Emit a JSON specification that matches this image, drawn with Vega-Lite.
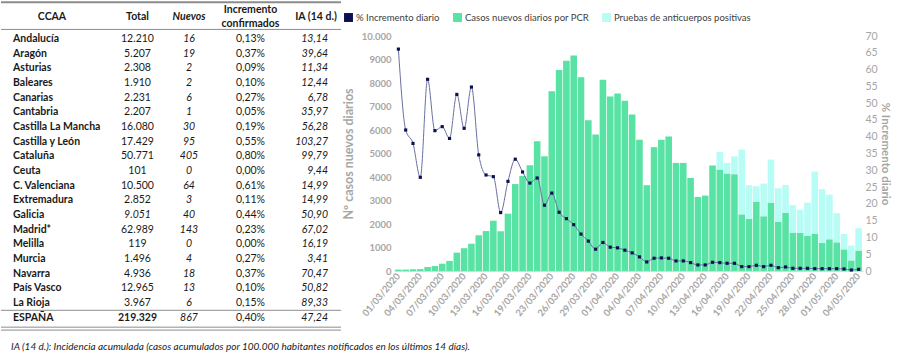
{
"$schema": "https://vega.github.io/schema/vega-lite/v6.json",
"padding": 0,
"background": "white",
"bounds": "flush",
"spacing": 63,
"resolve": {"scale": {"color": "independent"}, "legend": {"color": "independent"}},
"config": {"view": {"stroke": null}, "font": "Lato"},
"datasets": {
"tabla": [
{"CCAA":"Andalucía","Total":"12.210","Nuevos":"16","Inc":"0,13%","IA":"13,14"},
{"CCAA":"Aragón","Total":"5.207","Nuevos":"19","Inc":"0,37%","IA":"39,64"},
{"CCAA":"Asturias","Total":"2.308","Nuevos":"2","Inc":"0,09%","IA":"11,34"},
{"CCAA":"Baleares","Total":"1.910","Nuevos":"2","Inc":"0,10%","IA":"12,44"},
{"CCAA":"Canarias","Total":"2.231","Nuevos":"6","Inc":"0,27%","IA":"6,78"},
{"CCAA":"Cantabria","Total":"2.207","Nuevos":"1","Inc":"0,05%","IA":"35,97"},
{"CCAA":"Castilla La Mancha","Total":"16.080","Nuevos":"30","Inc":"0,19%","IA":"56,28"},
{"CCAA":"Castilla y León","Total":"17.429","Nuevos":"95","Inc":"0,55%","IA":"103,27"},
{"CCAA":"Cataluña","Total":"50.771","Nuevos":"405","Inc":"0,80%","IA":"99,79"},
{"CCAA":"Ceuta","Total":"101","Nuevos":"0","Inc":"0,00%","IA":"9,44"},
{"CCAA":"C. Valenciana","Total":"10.500","Nuevos":"64","Inc":"0,61%","IA":"14,99"},
{"CCAA":"Extremadura","Total":"2.852","Nuevos":"3","Inc":"0,11%","IA":"14,99"},
{"CCAA":"Galicia","Total":"9.051","Nuevos":"40","Inc":"0,44%","IA":"50,90"},
{"CCAA":"Madrid*","Total":"62.989","Nuevos":"143","Inc":"0,23%","IA":"67,02"},
{"CCAA":"Melilla","Total":"119","Nuevos":"0","Inc":"0,00%","IA":"16,19"},
{"CCAA":"Murcia","Total":"1.496","Nuevos":"4","Inc":"0,27%","IA":"3,41"},
{"CCAA":"Navarra","Total":"4.936","Nuevos":"18","Inc":"0,37%","IA":"70,47"},
{"CCAA":"País Vasco","Total":"12.965","Nuevos":"13","Inc":"0,10%","IA":"50,82"},
{"CCAA":"La Rioja","Total":"3.967","Nuevos":"6","Inc":"0,15%","IA":"89,33"},
{"CCAA":"ESPAÑA","Total":"219.329","Nuevos":"867","Inc":"0,40%","IA":"47,24"}
],
"serie": [
{"fecha":"01/03/2020","Casos nuevos diarios por PCR":60,"Pruebas de anticuerpos positivas":null,"pct":66.1},
{"fecha":"02/03/2020","Casos nuevos diarios por PCR":60,"Pruebas de anticuerpos positivas":null,"pct":42.0},
{"fecha":"03/03/2020","Casos nuevos diarios por PCR":75,"Pruebas de anticuerpos positivas":null,"pct":38.0},
{"fecha":"04/03/2020","Casos nuevos diarios por PCR":80,"Pruebas de anticuerpos positivas":null,"pct":27.9},
{"fecha":"05/03/2020","Casos nuevos diarios por PCR":170,"Pruebas de anticuerpos positivas":null,"pct":57.1},
{"fecha":"06/03/2020","Casos nuevos diarios por PCR":210,"Pruebas de anticuerpos positivas":null,"pct":41.8},
{"fecha":"07/03/2020","Casos nuevos diarios por PCR":310,"Pruebas de anticuerpos positivas":null,"pct":43.0},
{"fecha":"08/03/2020","Casos nuevos diarios por PCR":430,"Pruebas de anticuerpos positivas":null,"pct":39.5},
{"fecha":"09/03/2020","Casos nuevos diarios por PCR":780,"Pruebas de anticuerpos positivas":null,"pct":52.6},
{"fecha":"10/03/2020","Casos nuevos diarios por PCR":970,"Pruebas de anticuerpos positivas":null,"pct":42.5},
{"fecha":"11/03/2020","Casos nuevos diarios por PCR":1160,"Pruebas de anticuerpos positivas":null,"pct":54.8},
{"fecha":"12/03/2020","Casos nuevos diarios por PCR":1520,"Pruebas de anticuerpos positivas":null,"pct":34.6},
{"fecha":"13/03/2020","Casos nuevos diarios por PCR":1700,"Pruebas de anticuerpos positivas":null,"pct":28.6},
{"fecha":"14/03/2020","Casos nuevos diarios por PCR":2140,"Pruebas de anticuerpos positivas":null,"pct":28.1},
{"fecha":"15/03/2020","Casos nuevos diarios por PCR":1690,"Pruebas de anticuerpos positivas":null,"pct":17.4},
{"fecha":"16/03/2020","Casos nuevos diarios por PCR":2440,"Pruebas de anticuerpos positivas":null,"pct":26.7},
{"fecha":"17/03/2020","Casos nuevos diarios por PCR":3700,"Pruebas de anticuerpos positivas":null,"pct":33.3},
{"fecha":"18/03/2020","Casos nuevos diarios por PCR":4050,"Pruebas de anticuerpos positivas":null,"pct":29.5},
{"fecha":"19/03/2020","Casos nuevos diarios por PCR":4500,"Pruebas de anticuerpos positivas":null,"pct":26.2},
{"fecha":"20/03/2020","Casos nuevos diarios por PCR":5520,"Pruebas de anticuerpos positivas":null,"pct":27.7},
{"fecha":"21/03/2020","Casos nuevos diarios por PCR":4880,"Pruebas de anticuerpos positivas":null,"pct":19.6},
{"fecha":"23/03/2020","Casos nuevos diarios por PCR":7650,"Pruebas de anticuerpos positivas":null,"pct":23.2},
{"fecha":"24/03/2020","Casos nuevos diarios por PCR":8550,"Pruebas de anticuerpos positivas":null,"pct":17.5},
{"fecha":"25/03/2020","Casos nuevos diarios por PCR":8950,"Pruebas de anticuerpos positivas":null,"pct":15.6},
{"fecha":"26/03/2020","Casos nuevos diarios por PCR":9170,"Pruebas de anticuerpos positivas":null,"pct":13.8},
{"fecha":"27/03/2020","Casos nuevos diarios por PCR":8250,"Pruebas de anticuerpos positivas":null,"pct":11.0},
{"fecha":"28/03/2020","Casos nuevos diarios por PCR":6420,"Pruebas de anticuerpos positivas":null,"pct":8.9},
{"fecha":"29/03/2020","Casos nuevos diarios por PCR":5810,"Pruebas de anticuerpos positivas":null,"pct":6.5},
{"fecha":"30/03/2020","Casos nuevos diarios por PCR":8140,"Pruebas de anticuerpos positivas":null,"pct":8.5},
{"fecha":"31/03/2020","Casos nuevos diarios por PCR":7430,"Pruebas de anticuerpos positivas":null,"pct":7.1},
{"fecha":"01/04/2020","Casos nuevos diarios por PCR":7550,"Pruebas de anticuerpos positivas":null,"pct":6.9},
{"fecha":"02/04/2020","Casos nuevos diarios por PCR":7240,"Pruebas de anticuerpos positivas":null,"pct":6.2},
{"fecha":"03/04/2020","Casos nuevos diarios por PCR":6660,"Pruebas de anticuerpos positivas":null,"pct":5.4},
{"fecha":"04/04/2020","Casos nuevos diarios por PCR":5580,"Pruebas de anticuerpos positivas":null,"pct":4.2},
{"fecha":"05/04/2020","Casos nuevos diarios por PCR":3650,"Pruebas de anticuerpos positivas":null,"pct":2.7},
{"fecha":"06/04/2020","Casos nuevos diarios por PCR":5270,"Pruebas de anticuerpos positivas":null,"pct":3.8},
{"fecha":"07/04/2020","Casos nuevos diarios por PCR":5580,"Pruebas de anticuerpos positivas":null,"pct":3.9},
{"fecha":"08/04/2020","Casos nuevos diarios por PCR":5720,"Pruebas de anticuerpos positivas":null,"pct":3.8},
{"fecha":"09/04/2020","Casos nuevos diarios por PCR":4600,"Pruebas de anticuerpos positivas":null,"pct":3.0},
{"fecha":"10/04/2020","Casos nuevos diarios por PCR":4600,"Pruebas de anticuerpos positivas":null,"pct":3.0},
{"fecha":"11/04/2020","Casos nuevos diarios por PCR":3960,"Pruebas de anticuerpos positivas":null,"pct":2.5},
{"fecha":"12/04/2020","Casos nuevos diarios por PCR":3150,"Pruebas de anticuerpos positivas":null,"pct":1.8},
{"fecha":"13/04/2020","Casos nuevos diarios por PCR":3210,"Pruebas de anticuerpos positivas":null,"pct":1.8},
{"fecha":"14/04/2020","Casos nuevos diarios por PCR":4490,"Pruebas de anticuerpos positivas":null,"pct":2.6},
{"fecha":"15/04/2020","Casos nuevos diarios por PCR":4320,"Pruebas de anticuerpos positivas":750,"pct":2.5},
{"fecha":"16/04/2020","Casos nuevos diarios por PCR":4150,"Pruebas de anticuerpos positivas":450,"pct":2.3},
{"fecha":"17/04/2020","Casos nuevos diarios por PCR":4120,"Pruebas de anticuerpos positivas":760,"pct":2.3},
{"fecha":"18/04/2020","Casos nuevos diarios por PCR":2410,"Pruebas de anticuerpos positivas":2760,"pct":1.3},
{"fecha":"19/04/2020","Casos nuevos diarios por PCR":2220,"Pruebas de anticuerpos positivas":1430,"pct":1.3},
{"fecha":"20/04/2020","Casos nuevos diarios por PCR":2940,"Pruebas de anticuerpos positivas":670,"pct":1.7},
{"fecha":"21/04/2020","Casos nuevos diarios por PCR":2330,"Pruebas de anticuerpos positivas":1390,"pct":1.3},
{"fecha":"22/04/2020","Casos nuevos diarios por PCR":2910,"Pruebas de anticuerpos positivas":1830,"pct":1.7},
{"fecha":"23/04/2020","Casos nuevos diarios por PCR":2090,"Pruebas de anticuerpos positivas":1430,"pct":1.0},
{"fecha":"24/04/2020","Casos nuevos diarios por PCR":2470,"Pruebas de anticuerpos positivas":1190,"pct":1.2},
{"fecha":"25/04/2020","Casos nuevos diarios por PCR":1630,"Pruebas de anticuerpos positivas":1170,"pct":0.8},
{"fecha":"26/04/2020","Casos nuevos diarios por PCR":1630,"Pruebas de anticuerpos positivas":980,"pct":0.8},
{"fecha":"27/04/2020","Casos nuevos diarios por PCR":1490,"Pruebas de anticuerpos positivas":1420,"pct":0.8},
{"fecha":"28/04/2020","Casos nuevos diarios por PCR":1590,"Pruebas de anticuerpos positivas":2640,"pct":0.7},
{"fecha":"29/04/2020","Casos nuevos diarios por PCR":1190,"Pruebas de anticuerpos positivas":2290,"pct":0.7},
{"fecha":"30/04/2020","Casos nuevos diarios por PCR":1350,"Pruebas de anticuerpos positivas":1900,"pct":0.7},
{"fecha":"01/05/2020","Casos nuevos diarios por PCR":1220,"Pruebas de anticuerpos positivas":1240,"pct":0.7},
{"fecha":"02/05/2020","Casos nuevos diarios por PCR":920,"Pruebas de anticuerpos positivas":660,"pct":0.6},
{"fecha":"03/05/2020","Casos nuevos diarios por PCR":450,"Pruebas de anticuerpos positivas":630,"pct":0.3},
{"fecha":"04/05/2020","Casos nuevos diarios por PCR":870,"Pruebas de anticuerpos positivas":950,"pct":0.5}
]
},
"hconcat": [
{
"width": 330,
"height": 361,
"data": {"name": "tabla"},
"layer": [
{"data": {"values": [{}]}, "mark": {"type": "rule", "color": "#8c8c8c", "strokeWidth": 2, "x2Offset": 10},
 "encoding": {"x": {"datum": "CCAA", "type": "nominal", "axis": null, "scale": {"type": "point", "domain": ["CCAA","Total","Nuevos","Inc","IA"], "padding": 0}}, "x2": {"datum": "IA"},
 "y": {"datum": "h1", "type": "nominal", "axis": null, "bandPosition": 0, "scale": {"type": "band", "domain": ["h1","h2","Andalucía","Aragón","Asturias","Baleares","Canarias","Cantabria","Castilla La Mancha","Castilla y León","Cataluña","Ceuta","C. Valenciana","Extremadura","Galicia","Madrid*","Melilla","Murcia","Navarra","País Vasco","La Rioja","ESPAÑA","sp","nota"], "range": [2.3, 354.3], "paddingInner": 0, "paddingOuter": 0}}}},
{"data": {"values": [{}]}, "mark": {"type": "rule", "color": "#8c8c8c", "strokeWidth": 1, "x2Offset": 10},
 "encoding": {"x": {"datum": "CCAA", "type": "nominal", "axis": null, "scale": {"type": "point", "domain": ["CCAA","Total","Nuevos","Inc","IA"], "padding": 0}}, "x2": {"datum": "IA"},
 "y": {"datum": "h2", "type": "nominal", "axis": null, "bandPosition": 0.85, "scale": {"type": "band", "domain": ["h1","h2","Andalucía","Aragón","Asturias","Baleares","Canarias","Cantabria","Castilla La Mancha","Castilla y León","Cataluña","Ceuta","C. Valenciana","Extremadura","Galicia","Madrid*","Melilla","Murcia","Navarra","País Vasco","La Rioja","ESPAÑA","sp","nota"], "range": [2.3, 354.3], "paddingInner": 0, "paddingOuter": 0}}}},
{"data": {"values": [{}]}, "mark": {"type": "rule", "color": "#8c8c8c", "strokeWidth": 1, "x2Offset": 10},
 "encoding": {"x": {"datum": "CCAA", "type": "nominal", "axis": null, "scale": {"type": "point", "domain": ["CCAA","Total","Nuevos","Inc","IA"], "padding": 0}}, "x2": {"datum": "IA"},
 "y": {"datum": "ESPAÑA", "type": "nominal", "axis": null, "bandPosition": 0, "scale": {"type": "band", "domain": ["h1","h2","Andalucía","Aragón","Asturias","Baleares","Canarias","Cantabria","Castilla La Mancha","Castilla y León","Cataluña","Ceuta","C. Valenciana","Extremadura","Galicia","Madrid*","Melilla","Murcia","Navarra","País Vasco","La Rioja","ESPAÑA","sp","nota"], "range": [2.3, 354.3], "paddingInner": 0, "paddingOuter": 0}}}},
{"data": {"values": [{}]}, "mark": {"type": "rule", "color": "#8c8c8c", "strokeWidth": 1, "x2Offset": 10},
 "encoding": {"x": {"datum": "CCAA", "type": "nominal", "axis": null, "scale": {"type": "point", "domain": ["CCAA","Total","Nuevos","Inc","IA"], "padding": 0}}, "x2": {"datum": "IA"},
 "y": {"datum": "sp", "type": "nominal", "axis": null, "bandPosition": 0.15, "scale": {"type": "band", "domain": ["h1","h2","Andalucía","Aragón","Asturias","Baleares","Canarias","Cantabria","Castilla La Mancha","Castilla y León","Cataluña","Ceuta","C. Valenciana","Extremadura","Galicia","Madrid*","Melilla","Murcia","Navarra","País Vasco","La Rioja","ESPAÑA","sp","nota"], "range": [2.3, 354.3], "paddingInner": 0, "paddingOuter": 0}}}},
{"data": {"values": [{}]}, "mark": {"type": "rule", "color": "#8c8c8c", "strokeWidth": 1, "x2Offset": 10},
 "encoding": {"x": {"datum": "CCAA", "type": "nominal", "axis": null, "scale": {"type": "point", "domain": ["CCAA","Total","Nuevos","Inc","IA"], "padding": 0}}, "x2": {"datum": "IA"},
 "y": {"datum": "sp", "type": "nominal", "axis": null, "bandPosition": 0.35, "scale": {"type": "band", "domain": ["h1","h2","Andalucía","Aragón","Asturias","Baleares","Canarias","Cantabria","Castilla La Mancha","Castilla y León","Cataluña","Ceuta","C. Valenciana","Extremadura","Galicia","Madrid*","Melilla","Murcia","Navarra","País Vasco","La Rioja","ESPAÑA","sp","nota"], "range": [2.3, 354.3], "paddingInner": 0, "paddingOuter": 0}}}},
{"data": {"values": [{"t": "CCAA"}]}, "mark": {"type": "text", "font": "Lato", "fontSize": 10.5, "fontWeight": "bold", "baseline": "middle", "color": "#1a1a1a", "dx": 51},
 "encoding": {"x": {"datum": "CCAA", "type": "nominal", "axis": null, "scale": {"type": "point", "domain": ["CCAA","Total","Nuevos","Inc","IA"], "padding": 0}},
 "y": {"datum": "h2", "type": "nominal", "axis": null, "bandPosition": 0, "scale": {"type": "band", "domain": ["h1","h2","Andalucía","Aragón","Asturias","Baleares","Canarias","Cantabria","Castilla La Mancha","Castilla y León","Cataluña","Ceuta","C. Valenciana","Extremadura","Galicia","Madrid*","Melilla","Murcia","Navarra","País Vasco","La Rioja","ESPAÑA","sp","nota"], "range": [2.3, 354.3], "paddingInner": 0, "paddingOuter": 0}},
 "text": {"field": "t"}}},
{"data": {"values": [{"t": "Total"}]}, "mark": {"type": "text", "font": "Lato", "fontSize": 10.5, "fontWeight": "bold", "baseline": "middle", "color": "#1a1a1a", "dx": 54},
 "encoding": {"x": {"datum": "Total", "type": "nominal", "axis": null, "scale": {"type": "point", "domain": ["CCAA","Total","Nuevos","Inc","IA"], "padding": 0}},
 "y": {"datum": "h2", "type": "nominal", "axis": null, "bandPosition": 0, "scale": {"type": "band", "domain": ["h1","h2","Andalucía","Aragón","Asturias","Baleares","Canarias","Cantabria","Castilla La Mancha","Castilla y León","Cataluña","Ceuta","C. Valenciana","Extremadura","Galicia","Madrid*","Melilla","Murcia","Navarra","País Vasco","La Rioja","ESPAÑA","sp","nota"], "range": [2.3, 354.3], "paddingInner": 0, "paddingOuter": 0}},
 "text": {"field": "t"}}},
{"data": {"values": [{"t": "Nuevos"}]}, "mark": {"type": "text", "font": "Lato", "fontSize": 10.5, "fontWeight": "bold", "fontStyle": "italic", "baseline": "middle", "color": "#1a1a1a", "dx": 23},
 "encoding": {"x": {"datum": "Nuevos", "type": "nominal", "axis": null, "scale": {"type": "point", "domain": ["CCAA","Total","Nuevos","Inc","IA"], "padding": 0}},
 "y": {"datum": "h2", "type": "nominal", "axis": null, "bandPosition": 0, "scale": {"type": "band", "domain": ["h1","h2","Andalucía","Aragón","Asturias","Baleares","Canarias","Cantabria","Castilla La Mancha","Castilla y León","Cataluña","Ceuta","C. Valenciana","Extremadura","Galicia","Madrid*","Melilla","Murcia","Navarra","País Vasco","La Rioja","ESPAÑA","sp","nota"], "range": [2.3, 354.3], "paddingInner": 0, "paddingOuter": 0}},
 "text": {"field": "t"}}},
{"data": {"values": [{"t": "IA (14 d.)"}]}, "mark": {"type": "text", "font": "Lato", "fontSize": 10.5, "fontWeight": "bold", "baseline": "middle", "color": "#1a1a1a", "dx": -15},
 "encoding": {"x": {"datum": "IA", "type": "nominal", "axis": null, "scale": {"type": "point", "domain": ["CCAA","Total","Nuevos","Inc","IA"], "padding": 0}},
 "y": {"datum": "h2", "type": "nominal", "axis": null, "bandPosition": 0, "scale": {"type": "band", "domain": ["h1","h2","Andalucía","Aragón","Asturias","Baleares","Canarias","Cantabria","Castilla La Mancha","Castilla y León","Cataluña","Ceuta","C. Valenciana","Extremadura","Galicia","Madrid*","Melilla","Murcia","Navarra","País Vasco","La Rioja","ESPAÑA","sp","nota"], "range": [2.3, 354.3], "paddingInner": 0, "paddingOuter": 0}},
 "text": {"field": "t"}}},
{"data": {"values": [{"f": "h1", "t": "Incremento"}, {"f": "h2", "t": "confirmados"}]}, "mark": {"type": "text", "font": "Lato", "fontSize": 10.5, "fontWeight": "bold", "baseline": "middle", "color": "#1a1a1a", "dx": 2},
 "encoding": {"x": {"datum": "Inc", "type": "nominal", "axis": null, "scale": {"type": "point", "domain": ["CCAA","Total","Nuevos","Inc","IA"], "padding": 0}},
 "y": {"field": "f", "type": "nominal", "axis": null, "bandPosition": 0.5, "scale": {"type": "band", "domain": ["h1","h2","Andalucía","Aragón","Asturias","Baleares","Canarias","Cantabria","Castilla La Mancha","Castilla y León","Cataluña","Ceuta","C. Valenciana","Extremadura","Galicia","Madrid*","Melilla","Murcia","Navarra","País Vasco","La Rioja","ESPAÑA","sp","nota"], "range": [2.3, 354.3], "paddingInner": 0, "paddingOuter": 0}},
 "text": {"field": "t"}}},
{"mark": {"type": "text", "font": "Lato", "fontSize": 10.5, "fontWeight": "bold", "baseline": "middle", "align": "left", "color": "#1a1a1a", "dx": 12},
 "encoding": {"x": {"datum": "CCAA", "type": "nominal", "axis": null, "scale": {"type": "point", "domain": ["CCAA","Total","Nuevos","Inc","IA"], "padding": 0}},
 "y": {"field": "CCAA", "type": "nominal", "axis": null, "bandPosition": 0.5, "scale": {"type": "band", "domain": ["h1","h2","Andalucía","Aragón","Asturias","Baleares","Canarias","Cantabria","Castilla La Mancha","Castilla y León","Cataluña","Ceuta","C. Valenciana","Extremadura","Galicia","Madrid*","Melilla","Murcia","Navarra","País Vasco","La Rioja","ESPAÑA","sp","nota"], "range": [2.3, 354.3], "paddingInner": 0, "paddingOuter": 0}},
 "text": {"field": "CCAA"}}},
{"transform": [{"filter": "datum.CCAA != 'ESPAÑA' && datum.CCAA != 'Galicia'"}], "mark": {"type": "text", "font": "Lato", "fontSize": 10.5, "baseline": "middle", "color": "#1a1a1a", "dx": 54},
 "encoding": {"x": {"datum": "Total", "type": "nominal", "axis": null, "scale": {"type": "point", "domain": ["CCAA","Total","Nuevos","Inc","IA"], "padding": 0}},
 "y": {"field": "CCAA", "type": "nominal", "axis": null, "bandPosition": 0.5, "scale": {"type": "band", "domain": ["h1","h2","Andalucía","Aragón","Asturias","Baleares","Canarias","Cantabria","Castilla La Mancha","Castilla y León","Cataluña","Ceuta","C. Valenciana","Extremadura","Galicia","Madrid*","Melilla","Murcia","Navarra","País Vasco","La Rioja","ESPAÑA","sp","nota"], "range": [2.3, 354.3], "paddingInner": 0, "paddingOuter": 0}},
 "text": {"field": "Total"}}},
{"transform": [{"filter": "datum.CCAA == 'Galicia'"}], "mark": {"type": "text", "font": "Lato", "fontSize": 10.5, "fontStyle": "italic", "baseline": "middle", "color": "#1a1a1a", "dx": 54},
 "encoding": {"x": {"datum": "Total", "type": "nominal", "axis": null, "scale": {"type": "point", "domain": ["CCAA","Total","Nuevos","Inc","IA"], "padding": 0}},
 "y": {"field": "CCAA", "type": "nominal", "axis": null, "bandPosition": 0.5, "scale": {"type": "band", "domain": ["h1","h2","Andalucía","Aragón","Asturias","Baleares","Canarias","Cantabria","Castilla La Mancha","Castilla y León","Cataluña","Ceuta","C. Valenciana","Extremadura","Galicia","Madrid*","Melilla","Murcia","Navarra","País Vasco","La Rioja","ESPAÑA","sp","nota"], "range": [2.3, 354.3], "paddingInner": 0, "paddingOuter": 0}},
 "text": {"field": "Total"}}},
{"transform": [{"filter": "datum.CCAA == 'ESPAÑA'"}], "mark": {"type": "text", "font": "Lato", "fontSize": 10.5, "fontWeight": "bold", "baseline": "middle", "color": "#1a1a1a", "dx": 54},
 "encoding": {"x": {"datum": "Total", "type": "nominal", "axis": null, "scale": {"type": "point", "domain": ["CCAA","Total","Nuevos","Inc","IA"], "padding": 0}},
 "y": {"field": "CCAA", "type": "nominal", "axis": null, "bandPosition": 0.5, "scale": {"type": "band", "domain": ["h1","h2","Andalucía","Aragón","Asturias","Baleares","Canarias","Cantabria","Castilla La Mancha","Castilla y León","Cataluña","Ceuta","C. Valenciana","Extremadura","Galicia","Madrid*","Melilla","Murcia","Navarra","País Vasco","La Rioja","ESPAÑA","sp","nota"], "range": [2.3, 354.3], "paddingInner": 0, "paddingOuter": 0}},
 "text": {"field": "Total"}}},
{"mark": {"type": "text", "font": "Lato", "fontSize": 10.5, "fontStyle": "italic", "baseline": "middle", "color": "#1a1a1a", "dx": 23},
 "encoding": {"x": {"datum": "Nuevos", "type": "nominal", "axis": null, "scale": {"type": "point", "domain": ["CCAA","Total","Nuevos","Inc","IA"], "padding": 0}},
 "y": {"field": "CCAA", "type": "nominal", "axis": null, "bandPosition": 0.5, "scale": {"type": "band", "domain": ["h1","h2","Andalucía","Aragón","Asturias","Baleares","Canarias","Cantabria","Castilla La Mancha","Castilla y León","Cataluña","Ceuta","C. Valenciana","Extremadura","Galicia","Madrid*","Melilla","Murcia","Navarra","País Vasco","La Rioja","ESPAÑA","sp","nota"], "range": [2.3, 354.3], "paddingInner": 0, "paddingOuter": 0}},
 "text": {"field": "Nuevos"}}},
{"mark": {"type": "text", "font": "Lato", "fontSize": 10.5, "baseline": "middle", "color": "#1a1a1a", "dx": 2},
 "encoding": {"x": {"datum": "Inc", "type": "nominal", "axis": null, "scale": {"type": "point", "domain": ["CCAA","Total","Nuevos","Inc","IA"], "padding": 0}},
 "y": {"field": "CCAA", "type": "nominal", "axis": null, "bandPosition": 0.5, "scale": {"type": "band", "domain": ["h1","h2","Andalucía","Aragón","Asturias","Baleares","Canarias","Cantabria","Castilla La Mancha","Castilla y León","Cataluña","Ceuta","C. Valenciana","Extremadura","Galicia","Madrid*","Melilla","Murcia","Navarra","País Vasco","La Rioja","ESPAÑA","sp","nota"], "range": [2.3, 354.3], "paddingInner": 0, "paddingOuter": 0}},
 "text": {"field": "Inc"}}},
{"mark": {"type": "text", "font": "Lato", "fontSize": 10.5, "fontStyle": "italic", "baseline": "middle", "align": "right", "color": "#1a1a1a", "dx": -3},
 "encoding": {"x": {"datum": "IA", "type": "nominal", "axis": null, "scale": {"type": "point", "domain": ["CCAA","Total","Nuevos","Inc","IA"], "padding": 0}},
 "y": {"field": "CCAA", "type": "nominal", "axis": null, "bandPosition": 0.5, "scale": {"type": "band", "domain": ["h1","h2","Andalucía","Aragón","Asturias","Baleares","Canarias","Cantabria","Castilla La Mancha","Castilla y León","Cataluña","Ceuta","C. Valenciana","Extremadura","Galicia","Madrid*","Melilla","Murcia","Navarra","País Vasco","La Rioja","ESPAÑA","sp","nota"], "range": [2.3, 354.3], "paddingInner": 0, "paddingOuter": 0}},
 "text": {"field": "IA"}}},
{"data": {"values": [{"t": "IA (14 d.): Incidencia acumulada (casos acumulados por 100.000 habitantes notificados en los últimos 14 días)."}]}, "mark": {"type": "text", "font": "Lato", "fontSize": 10, "fontStyle": "italic", "baseline": "middle", "align": "left", "color": "#222222", "dx": 10},
 "encoding": {"x": {"datum": "CCAA", "type": "nominal", "axis": null, "scale": {"type": "point", "domain": ["CCAA","Total","Nuevos","Inc","IA"], "padding": 0}},
 "y": {"datum": "nota", "type": "nominal", "axis": null, "bandPosition": 0.5, "scale": {"type": "band", "domain": ["h1","h2","Andalucía","Aragón","Asturias","Baleares","Canarias","Cantabria","Castilla La Mancha","Castilla y León","Cataluña","Ceuta","C. Valenciana","Extremadura","Galicia","Madrid*","Melilla","Murcia","Navarra","País Vasco","La Rioja","ESPAÑA","sp","nota"], "range": [2.3, 354.3], "paddingInner": 0, "paddingOuter": 0}},
 "text": {"field": "t"}}}
]
},
{
"width": 469,
"height": 271,
"data": {"name": "serie"},
"layer": [
{"transform": [{"fold": ["Casos nuevos diarios por PCR", "Pruebas de anticuerpos positivas"], "as": ["serie", "valor"]}],
 "mark": {"type": "bar"},
 "encoding": {
  "x": {"field": "fecha", "type": "ordinal", "sort": null, "scale": {"paddingInner": 0.1, "paddingOuter": 0.15},
   "axis": {"values": ["01/03/2020","04/03/2020","07/03/2020","10/03/2020","13/03/2020","16/03/2020","19/03/2020","23/03/2020","26/03/2020","29/03/2020","01/04/2020","04/04/2020","07/04/2020","10/04/2020","13/04/2020","16/04/2020","19/04/2020","22/04/2020","25/04/2020","28/04/2020","01/05/2020","04/05/2020"],
    "labelAngle": -50, "title": null, "ticks": false, "domain": true, "domainColor": "#d9d9d9", "labelColor": "#a6a6a6", "labelFont": "Lato", "labelFontSize": 9.5, "labelFontWeight": "bold", "labelPadding": 3}},
  "y": {"field": "valor", "type": "quantitative", "stack": "zero", "scale": {"domain": [0, 10000], "range": [271, 36], "nice": false},
   "axis": {"values": [0,1000,2000,3000,4000,5000,6000,7000,8000,9000,10000], "labelExpr": "datum.value == 10000 ? '10.000' : '' + datum.value", "title": "Nº casos nuevos diarios", "titleColor": "#a6a6a6", "titleFont": "Lato", "titleFontSize": 12.5, "titleFontWeight": "bold", "titlePadding": 6, "labelColor": "#a6a6a6", "labelFont": "Lato", "labelFontSize": 9.5, "labelFontWeight": "bold", "ticks": false, "domain": false, "grid": false, "labelPadding": 3}},
  "color": {"field": "serie", "type": "nominal", "scale": {"domain": ["% Incremento diario", "Casos nuevos diarios por PCR", "Pruebas de anticuerpos positivas"], "range": ["#0b1150", "#58e2a4", "#b8fcf6"]},
   "legend": {"orient": "none", "legendX": -51, "legendY": 12, "direction": "horizontal", "title": null, "symbolType": "square", "symbolSize": 80, "labelFont": "Lato", "labelFontSize": 9.5, "labelColor": "#404040", "columnPadding": 12, "labelOffset": 2, "padding": 0, "gridAlign": "none"}},
  "order": {"field": "serie", "sort": "ascending"}
 }},
{"layer": [
 {"mark": {"type": "line", "interpolate": "monotone", "color": "#6870a0", "strokeWidth": 1},
  "encoding": {"x": {"field": "fecha", "type": "ordinal", "sort": null},
   "y": {"field": "pct", "type": "quantitative", "scale": {"domain": [0, 70], "range": [271, 36], "nice": false},
    "axis": {"orient": "right", "values": [0,5,10,15,20,25,30,35,40,45,50,55,60,65,70], "labelOverlap": false, "title": "% Incremento diario", "titleAngle": 90, "titleColor": "#a6a6a6", "titleFont": "Lato", "titleFontSize": 11.5, "titleFontWeight": "bold", "titlePadding": 2, "labelColor": "#a6a6a6", "labelFont": "Lato", "labelFontSize": 10.5, "ticks": false, "domain": false, "grid": false, "labelPadding": 2}}}},
 {"mark": {"type": "point", "shape": "square", "filled": true, "size": 10, "opacity": 1},
  "encoding": {"x": {"field": "fecha", "type": "ordinal", "sort": null},
   "y": {"field": "pct", "type": "quantitative", "scale": {"domain": [0, 70], "range": [271, 36], "nice": false},
    "axis": {"orient": "right", "values": [0,5,10,15,20,25,30,35,40,45,50,55,60,65,70], "labelOverlap": false, "title": "% Incremento diario", "titleAngle": 90, "titleColor": "#a6a6a6", "titleFont": "Lato", "titleFontSize": 11.5, "titleFontWeight": "bold", "titlePadding": 2, "labelColor": "#a6a6a6", "labelFont": "Lato", "labelFontSize": 10.5, "ticks": false, "domain": false, "grid": false, "labelPadding": 2}},
   "color": {"datum": "% Incremento diario", "type": "nominal"}}}
 ]}
],
"resolve": {"scale": {"y": "independent"}}
}
]
}
